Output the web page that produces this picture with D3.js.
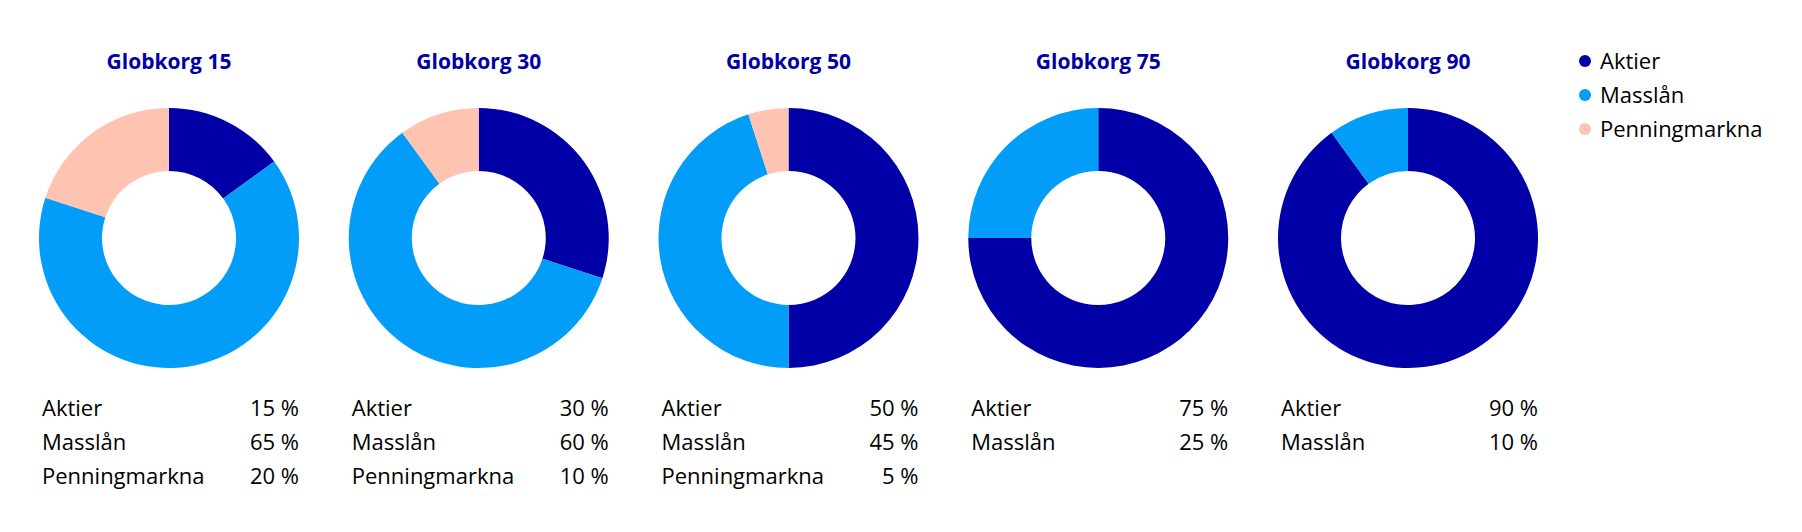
<!DOCTYPE html>
<html><head><meta charset="utf-8">
<script src="https://cdn.jsdelivr.net/npm/d3@7"></script>
<style>body{margin:0;background:#fff}text{font-family:"Open Sans","DejaVu Sans",sans-serif}</style>
</head><body><svg id="graph"></svg>
<script>
var width = 1802, height = 532;
var categories = ["Aktier", "Masslån", "Penningmarkna"];
var titles = ["Globkorg 15", "Globkorg 30", "Globkorg 50", "Globkorg 75", "Globkorg 90"];
var aktier = [15, 30, 50, 75, 90];
var masslan = [65, 60, 45, 25, 10];
var penning = [20, 10, 5, 0, 0];
var color = ["#0000a6", "#019df9", "#ffc3b1"];

var svg = d3.select("#graph").attr("width", width).attr("height", height);

var x = d3.scalePoint().domain(titles).range([169, 1408]);
var cy = 238;
var pie = d3.pie().sort(null).value(d => d.v);
var arc = d3.arc().innerRadius(67).outerRadius(130);

titles.forEach(function (t, i) {
	var vals = [aktier[i], masslan[i], penning[i]];
	var rows = categories.map((c, k) => ({ c: c, v: vals[k], k: k })).filter(d => d.v > 0);
	var g = svg.append("g").attr("transform", "translate(" + x(t) + "," + cy + ")");
	g.selectAll("path")
		.data(pie(rows))
		.enter()
		.append("path")
		.attr("d", arc)
		.attr("fill", d => color[d.data.k]);

	svg.append("text")
		.attr("x", x(t)).attr("y", 69)
		.attr("text-anchor", "middle")
		.attr("font-size", "21px").attr("font-weight", "bold")
		.attr("fill", "#0000a6")
		.text(t);

	rows.forEach(function (r, j) {
		svg.append("text")
			.attr("x", x(t) - 127).attr("y", 416 + j * 34)
			.attr("font-size", "22px").attr("fill", "#000")
			.text(r.c);
		svg.append("text")
			.attr("x", x(t) + 130).attr("y", 416 + j * 34)
			.attr("text-anchor", "end")
			.attr("font-size", "22px").attr("fill", "#000")
			.text(r.v + " %");
	});
});

// legend
categories.forEach(function (c, i) {
	svg.append("circle").attr("cx", 1585).attr("cy", 61 + i * 34).attr("r", 6).attr("fill", color[i]);
	svg.append("text").attr("x", 1600).attr("y", 69 + i * 34)
		.attr("font-size", "22px").attr("fill", "#000").text(c);
});
</script></body></html>
